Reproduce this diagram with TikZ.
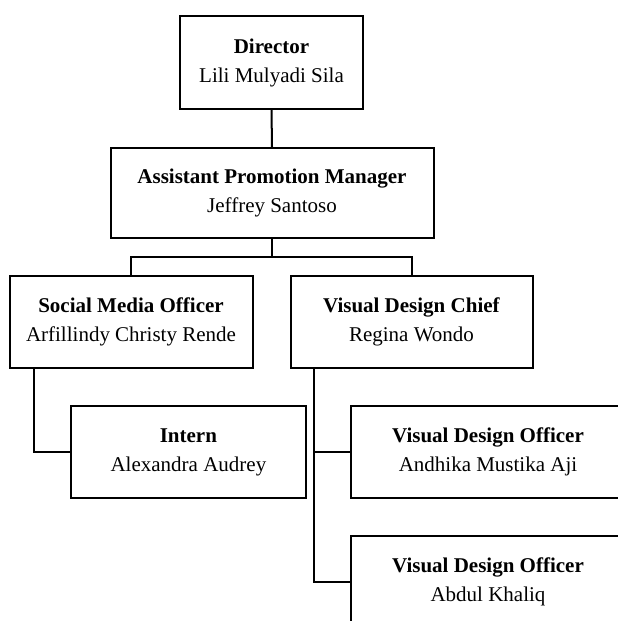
\documentclass[tikz,border=0pt]{standalone}
\usepackage{fontspec}
\setmainfont{Liberation Serif}
\begin{document}
\begin{tikzpicture}[x=1pt,y=-1pt,
  box/.style={draw, line width=2pt, align=center, inner sep=0pt, fill=white,
    font=\fontsize{21}{29}\selectfont, minimum height=92pt},
  conn/.style={line width=2pt}]
\useasboundingbox (0,0) rectangle (618,621);
\clip (0,0) rectangle (618,621);
\node[box, minimum width=183pt, minimum height=93pt] (dir) at (271.5,62.5) {\textbf{Director}\\Lili Mulyadi Sila};
\node[box, minimum width=323pt, minimum height=90pt] (apm) at (272,193) {\textbf{Assistant Promotion Manager}\\Jeffrey Santoso};
\node[box, minimum width=243pt] (soc) at (131,322) {\textbf{Social Media Officer}\\Arfillindy Christy Rende};
\node[box, minimum width=242pt] (vdc) at (411.5,322) {\textbf{Visual Design Chief}\\Regina Wondo};
\node[box, minimum width=235pt] (int) at (188.4,452) {\textbf{Intern}\\Alexandra Audrey};
\node[box, minimum width=274pt] (vdo1) at (488,452) {\textbf{Visual Design Officer}\\Andhika Mustika Aji};
\node[box, minimum width=274pt] (vdo2) at (488,582) {\textbf{Visual Design Officer}\\Abdul Khaliq};
\coordinate (br) at (272,257);
\draw[conn] (dir.south) -- (apm.south |- apm.north);
\draw[conn] (apm.south) -- (br);
\draw[conn] (soc.north) |- (br) -| (vdc.north);
\coordinate (sl) at ([xshift=25.5pt]soc.south west);
\draw[conn] (sl) |- (int.west);
\coordinate (vl) at ([xshift=24pt]vdc.south west);
\draw[conn] (vl) |- (vdo2.west);
\draw[conn] (vl |- vdo1.west) -- (vdo1.west);
\end{tikzpicture}
\end{document}
